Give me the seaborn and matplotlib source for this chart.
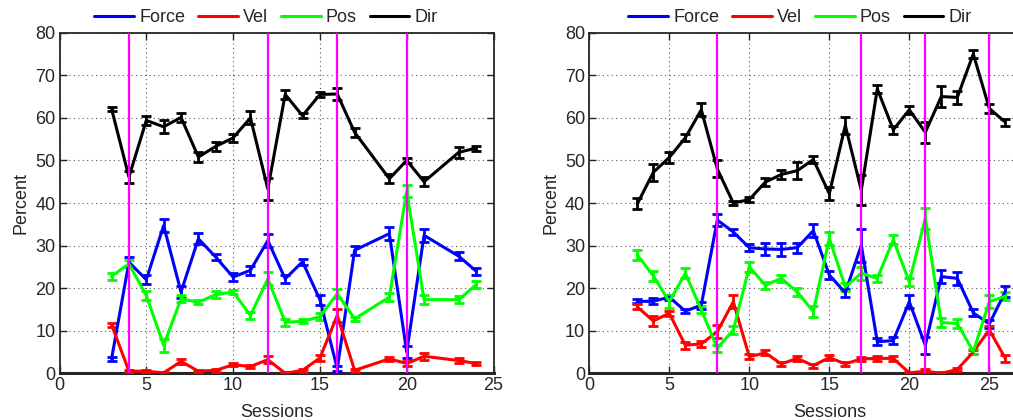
import numpy as np
import pandas as pd
import matplotlib
matplotlib.use("Agg")
import matplotlib.pyplot as plt
import seaborn as sns
from matplotlib.lines import Line2D

# ---------------- data ----------------
sessions_left = [3, 4, 5, 6, 7, 8, 9, 10, 11, 12, 13, 14, 15, 16, 17, 19, 20, 21, 23, 24]
force_left = [3.4, 26.1, 22.0, 34.7, 19.1, 31.6, 27.3, 22.6, 24.2, 31.2, 22.2, 26.2, 17.3, 1.1, 28.9, 32.8, 5.0, 32.4, 27.5, 24.0]
force_left_err = [0.5, 1.2, 1.0, 1.5, 1.5, 1.3, 0.8, 1.0, 1.0, 1.5, 1.0, 0.7, 1.2, 0.6, 1.0, 1.5, 1.5, 1.5, 1.0, 0.8]
vel_left = [11.4, 0.5, 0.5, 0.1, 2.8, 0.5, 0.7, 2.0, 1.6, 3.2, 0.0, 0.7, 3.6, 13.6, 0.7, 3.4, 2.3, 4.0, 3.0, 2.3]
vel_left_err = [0.5, 0.3, 0.3, 0.3, 0.6, 0.3, 0.3, 0.4, 0.4, 0.8, 0.2, 0.3, 0.6, 1.5, 0.3, 0.5, 0.5, 0.8, 0.5, 0.4]
pos_left = [22.8, 25.7, 18.3, 6.6, 17.5, 16.7, 18.5, 19.1, 13.6, 22.2, 12.0, 12.2, 13.3, 18.7, 12.8, 17.9, 42.8, 17.3, 17.3, 20.8]
pos_left_err = [0.8, 0.8, 1.0, 1.5, 0.8, 0.5, 0.8, 0.5, 0.8, 1.5, 0.8, 0.5, 0.8, 1.0, 0.5, 1.0, 1.5, 1.0, 0.8, 0.8]
dir_left = [62.1, 46.1, 59.4, 57.9, 60.1, 50.8, 53.3, 55.3, 60.0, 43.3, 65.5, 60.5, 65.5, 65.6, 56.6, 45.7, 50.0, 45.0, 51.9, 52.9]
dir_left_err = [0.5, 1.5, 1.0, 1.5, 1.0, 1.2, 1.0, 1.0, 1.5, 2.5, 1.0, 0.6, 0.6, 1.5, 1.0, 1.0, 0.6, 1.0, 1.3, 0.6]
markers_left = [4, 12, 16, 20]

sessions_right = list(range(3, 27))
force_right = [16.9, 16.9, 17.9, 14.6, 16.0, 36.0, 33.2, 29.5, 29.2, 29.1, 29.5, 33.5, 23.1, 18.9, 30.1, 7.4, 7.7, 16.8, 6.6, 22.7, 22.3, 14.2, 11.6, 19.2]
force_right_err = [0.5, 0.7, 0.6, 0.5, 0.8, 1.5, 0.6, 0.8, 1.5, 1.5, 1.2, 1.5, 1.0, 1.0, 3.9, 0.8, 0.8, 1.5, 2.0, 1.5, 1.5, 0.8, 1.0, 1.2]
vel_right = [15.6, 12.3, 14.1, 6.6, 6.9, 9.8, 16.8, 3.9, 4.8, 2.2, 3.5, 1.8, 3.7, 2.2, 3.4, 3.5, 3.5, 0.1, 0.5, 0.0, 0.9, 5.0, 10.2, 3.5]
vel_right_err = [0.6, 1.2, 0.6, 0.8, 0.8, 1.5, 1.5, 0.6, 0.6, 0.5, 0.6, 0.5, 0.6, 0.5, 0.5, 0.5, 0.5, 0.3, 0.4, 0.2, 0.4, 0.5, 1.0, 0.8]
pos_right = [27.8, 22.9, 16.8, 23.5, 14.9, 5.9, 10.2, 25.0, 20.7, 22.3, 19.1, 14.5, 31.7, 20.3, 23.5, 22.3, 31.4, 21.5, 36.4, 11.9, 11.7, 5.1, 16.8, 18.1]
pos_right_err = [1.2, 1.2, 1.5, 1.2, 0.8, 0.8, 1.0, 1.2, 0.8, 0.8, 1.0, 1.2, 1.5, 1.0, 1.5, 0.8, 1.0, 1.0, 2.5, 1.0, 1.0, 0.5, 1.5, 1.0]
dir_right = [39.8, 47.2, 50.7, 55.3, 61.9, 48.0, 40.0, 40.8, 44.9, 46.7, 47.6, 50.2, 42.2, 58.2, 43.0, 66.8, 57.2, 61.9, 56.6, 65.0, 64.8, 75.0, 62.2, 59.0]
dir_right_err = [1.3, 2.0, 1.2, 0.8, 1.5, 2.0, 0.4, 0.6, 1.0, 1.0, 2.0, 0.8, 1.5, 2.0, 3.5, 1.0, 1.0, 1.0, 2.5, 2.5, 1.5, 1.0, 1.0, 0.8]
markers_right = [8, 17, 21, 25]

series_names = ["Force", "Vel", "Pos", "Dir"]
series_colors = ["#0000ff", "#ff0000", "#00ff00", "#000000"]
x_ticks_left = [0, 5, 10, 15, 20, 25]
x_ticks_right = [0, 5, 10, 15, 20, 25]
y_ticks = [0, 10, 20, 30, 40, 50, 60, 70, 80]

# ---------------- style ----------------
sns.set_style("ticks")
plt.rcParams["font.family"] = ["Liberation Sans", "DejaVu Sans"]
plt.rcParams["font.size"] = 13

fig = plt.figure(figsize=(10.13, 4.20), dpi=100)
W, H = 1013.0, 420.0
ax_l = fig.add_axes([59.5 / W, 46.7 / H, 434 / W, 340.6 / H])
ax_r = fig.add_axes([589.3 / W, 46.7 / H, 480 / W, 340.6 / H])


def draw_panel(ax, sess, series, errs, markers, xlim, xticks):
    frames = []
    for name, vals in zip(series_names, series):
        frames.append(pd.DataFrame({"Sessions": sess, "Percent": vals, "Series": name}))
    df = pd.concat(frames, ignore_index=True)
    for name, vals, err, col in zip(series_names, series, errs, series_colors):
        ax.errorbar(sess, vals, yerr=err, fmt="none", ecolor=col,
                    elinewidth=2.0, capsize=3.5, capthick=2.0, zorder=3)
    sns.lineplot(data=df, x="Sessions", y="Percent", hue="Series",
                 hue_order=series_names, palette=series_colors,
                 linewidth=2.2, ax=ax, legend=False, zorder=4)
    for m in markers:
        ax.axvline(m, color="#ff00ff", linewidth=1.6, zorder=5)
    ax.set_xlim(*xlim)
    ax.set_ylim(0, 80)
    ax.set_xticks(xticks)
    ax.set_yticks(y_ticks)
    ax.grid(True, linestyle=(0, (1, 3)), color="0.35", linewidth=0.8)
    ax.tick_params(direction="in", top=True, right=True, length=5,
                   width=1.0, labelsize=13, pad=3)
    for sp in ax.spines.values():
        sp.set_linewidth(1.3)
    ax.spines["bottom"].set_linewidth(2.2)
    ax.set_xlabel("Sessions", fontsize=13, labelpad=7)
    ax.set_ylabel("Percent", fontsize=13, labelpad=4)


draw_panel(ax_l, sessions_left,
           [force_left, vel_left, pos_left, dir_left],
           [force_left_err, vel_left_err, pos_left_err, dir_left_err],
           markers_left, (0, 25), x_ticks_left)
draw_panel(ax_r, sessions_right,
           [force_right, vel_right, pos_right, dir_right],
           [force_right_err, vel_right_err, pos_right_err, dir_right_err],
           markers_right, (0, 30), x_ticks_right)

handles = [Line2D([], [], color=c, linewidth=2.2) for c in series_colors]
for cx in (266 / W, 800 / W):
    fig.legend(handles, series_names, loc="center", bbox_to_anchor=(cx, 1 - 17.5 / H),
               ncol=4, frameon=False, handlelength=2.2, handletextpad=0.3,
               columnspacing=0.7, fontsize=13, borderaxespad=0)

fig.savefig("out.png", dpi=100)
